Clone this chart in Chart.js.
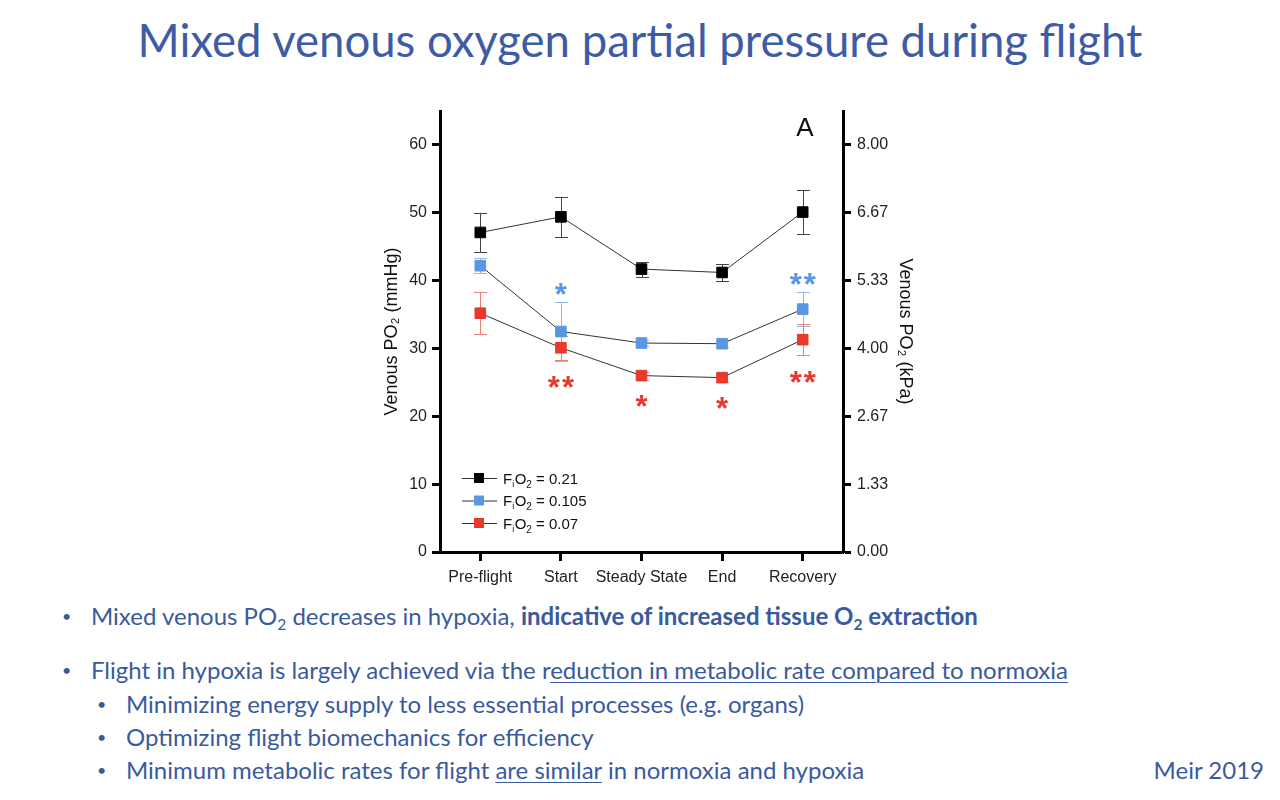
<!DOCTYPE html>
<html>
<head>
<meta charset="utf-8">
<script src="https://cdn.jsdelivr.net/npm/chart.js@4.4.0/dist/chart.umd.min.js"></script>
<style>
  body { margin: 0; width: 1280px; height: 800px; background: #fff; position: relative; overflow: hidden;
         font-family: Lato, "Open Sans", sans-serif; color: #3a5a9e; }
  .title { position: absolute; left: 0; width: 1280px; top: 12px; text-align: center; font-size: 45.5px; color: #3e5ca6; }
  .chart-box { position: absolute; left: 360px; top: 90px; width: 600px; height: 510px; }
  .b { position: absolute; font-size: 24px; line-height: 26px; white-space: nowrap; }
  .b::before { content: "\2022"; position: absolute; left: -29px; font-size: 16px; }
  .b sub { font-size: 0.65em; vertical-align: -0.3em; line-height: 0; }
  .b u { text-decoration-thickness: 1px; text-underline-offset: 3px; }
  .ref { position: absolute; right: 16px; top: 757px; font-size: 24px; line-height: 26px; }
</style>
</head>
<body>
<div class="title">Mixed venous oxygen partial pressure during flight</div>
<div class="chart-box"><canvas id="venousChart"></canvas></div>

<div class="b" style="left:91px; top:603px;">Mixed venous PO<sub>2</sub> decreases in hypoxia, <b>indicative of increased tissue O<sub>2</sub> extraction</b></div>
<div class="b" style="left:91px; top:657px;">Flight in hypoxia is largely achieved via the r<u>eduction in metabolic rate compared to normoxia</u></div>
<div class="b" style="left:126px; top:691px;">Minimizing energy supply to less essential processes (e.g. organs)</div>
<div class="b" style="left:126px; top:724px;">Optimizing flight biomechanics for efficiency</div>
<div class="b" style="left:126px; top:757px;">Minimum metabolic rates for flight <u>are similar</u> in normoxia and hypoxia</div>
<div class="ref">Meir 2019</div>

<script>
// values (mmHg)
const categories = ["Pre-flight", "Start", "Steady State", "End", "Recovery"];
const fio2Normoxia = [47.1, 49.4, 41.7, 41.2, 50.1];
const fio2NormoxiaErr = [2.9, 2.9, 1.1, 1.2, 3.2];
const fio2Mid = [42.2, 32.5, 30.8, 30.7, 35.8];
const fio2MidErr = [1.1, 4.3, 0.5, 0.5, 2.5];
const fio2Low = [35.2, 30.1, 26.0, 25.7, 31.3];
const fio2LowErr = [3.1, 1.8, 0.6, 0.6, 2.3];
const midStars = ["", "*", "", "", "**"];
const lowStars = ["", "**", "*", "*", "**"];
const legendLabels = ["0.21", "0.105", "0.07"];
const leftTicks = [0, 10, 20, 30, 40, 50, 60];
const rightTickLabels = ["0.00", "1.33", "2.67", "4.00", "5.33", "6.67", "8.00"];
const mmHgPerKPa = 7.5;

const BLACK = "#000000";
const BLUE = "#5a97e2";
const RED = "#e8392d";
const FAMILY = "'Liberation Sans', Arial, sans-serif";
const tickFont = { family: FAMILY, size: 16 };

const series = [
  { values: fio2Normoxia, err: fio2NormoxiaErr, color: BLACK, errColor: "#444" },
  { values: fio2Mid, err: fio2MidErr, color: BLUE, errColor: "#8fb8ee" },
  { values: fio2Low, err: fio2LowErr, color: RED, errColor: "#ef8077" }
];

function makeDataset(s) {
  return {
    data: s.values,
    yAxisID: "y",
    borderColor: "#333",
    borderWidth: 1,
    pointStyle: "rect",
    pointRadius: 7.5,
    pointBorderWidth: 1,
    pointBackgroundColor: s.color,
    pointBorderColor: s.color
  };
}

const overlayPlugin = {
  id: "overlay",
  beforeDatasetsDraw(chart) {
    const ctx = chart.ctx;
    const x = chart.scales.x, y = chart.scales.y;
    series.forEach(function (s) {
      ctx.save();
      ctx.strokeStyle = s.errColor;
      ctx.lineWidth = 1;
      s.values.forEach(function (v, i) {
        const px = Math.round(x.getPixelForValue(i)) + 0.5;
        const top = Math.round(y.getPixelForValue(v + s.err[i])) + 0.5;
        const bot = Math.round(y.getPixelForValue(v - s.err[i])) + 0.5;
        ctx.beginPath();
        ctx.moveTo(px, top); ctx.lineTo(px, bot);
        ctx.moveTo(px - 6.5, top); ctx.lineTo(px + 6.5, top);
        ctx.moveTo(px - 6.5, bot); ctx.lineTo(px + 6.5, bot);
        ctx.stroke();
      });
      ctx.restore();
    });
  },
  afterDatasetsDraw(chart) {
    const ctx = chart.ctx;
    const x = chart.scales.x, y = chart.scales.y;
    const area = chart.chartArea;
    ctx.save();
    // significance stars
    const starSize = 31;
    ctx.font = "bold " + starSize + "px " + FAMILY;
    ctx.letterSpacing = "2px";
    ctx.textAlign = "center";
    ctx.textBaseline = "alphabetic";
    midStars.forEach(function (st, i) {
      if (!st) return;
      const top = y.getPixelForValue(fio2Mid[i] + fio2MidErr[i]);
      ctx.fillStyle = BLUE;
      ctx.fillText(st, x.getPixelForValue(i) + 1, top - 15 + starSize * 0.57);
    });
    lowStars.forEach(function (st, i) {
      if (!st) return;
      const bot = y.getPixelForValue(fio2Low[i] - fio2LowErr[i]);
      ctx.fillStyle = RED;
      ctx.fillText(st, x.getPixelForValue(i) + 1, bot + 20 + starSize * 0.57);
    });
    ctx.letterSpacing = "0px";

    // panel letter
    ctx.fillStyle = "#111";
    ctx.font = "26px " + FAMILY;
    ctx.textBaseline = "middle";
    ctx.fillText("A", area.right - 38, area.top + 18);

    // legend
    const lx = area.left + 39;
    const baseY = area.bottom - 74;
    series.forEach(function (s, i) {
      const ly = baseY + i * 22.5;
      ctx.strokeStyle = "#333";
      ctx.lineWidth = 1;
      ctx.beginPath();
      ctx.moveTo(lx - 17, ly + 0.5); ctx.lineTo(lx + 18, ly + 0.5);
      ctx.stroke();
      ctx.fillStyle = s.color;
      ctx.fillRect(lx - 5, ly - 5, 10, 10);
      let tx = lx + 24;
      ctx.fillStyle = "#111";
      ctx.textAlign = "left";
      ctx.textBaseline = "alphabetic";
      const base = ly + 5.5;
      ctx.font = "15px " + FAMILY;
      ctx.fillText("F", tx, base); tx += ctx.measureText("F").width;
      ctx.font = "9px " + FAMILY;
      ctx.fillText("i", tx, base + 3); tx += ctx.measureText("i").width + 0.5;
      ctx.font = "15px " + FAMILY;
      ctx.fillText("O", tx, base); tx += ctx.measureText("O").width;
      ctx.font = "10px " + FAMILY;
      ctx.fillText("2", tx, base + 4); tx += ctx.measureText("2").width;
      ctx.font = "15px " + FAMILY;
      ctx.fillText(" = " + legendLabels[i], tx, base);
    });
    ctx.restore();
  }
};

const axisBorder = { display: true, color: "#000", width: 3 };
const tickGrid = { drawOnChartArea: false, drawTicks: true, tickLength: 8, tickWidth: 3, tickColor: "#000", offset: false };

new Chart(document.getElementById("venousChart").getContext("2d"), {
  type: "line",
  data: {
    labels: categories,
    datasets: series.map(makeDataset)
  },
  options: {
    responsive: true,
    maintainAspectRatio: false,
    animation: false,
    layout: { padding: { top: 21, left: 0, right: 0, bottom: 0 } },
    plugins: { legend: { display: false }, tooltip: { enabled: false } },
    scales: {
      x: {
        type: "category",
        offset: true,
        grid: Object.assign({}, tickGrid, { tickLength: 9 }),
        border: axisBorder,
        ticks: { color: "#222", font: tickFont, padding: 7, maxRotation: 0, autoSkip: false },
        afterFit: function (scale) { scale.height = 48; }
      },
      y: {
        position: "left",
        min: 0,
        max: 65,
        grid: tickGrid,
        border: axisBorder,
        ticks: { color: "#222", font: tickFont, padding: 5 },
        afterBuildTicks: function (scale) { scale.ticks = leftTicks.map(function (v) { return { value: v }; }); },
        afterFit: function (scale) { scale.width = 80; },
        title: { display: true, text: "Venous PO₂ (mmHg)", color: "#111",
                 font: { family: FAMILY, size: 18 }, padding: { top: 21, bottom: 0 } }
      },
      y2: {
        position: "right",
        display: true,
        min: 0,
        max: 65 / mmHgPerKPa,
        grid: tickGrid,
        border: axisBorder,
        ticks: { color: "#222", font: tickFont, padding: 6,
                 callback: function (v, i) { return rightTickLabels[i]; } },
        afterBuildTicks: function (scale) { scale.ticks = leftTicks.map(function (v) { return { value: v / mmHgPerKPa }; }); },
        afterFit: function (scale) { scale.width = 117; },
        title: { display: true, text: "Venous PO₂ (kPa)", color: "#111",
                 font: { family: FAMILY, size: 18 }, padding: { top: 44, bottom: 0 } }
      }
    }
  },
  plugins: [overlayPlugin]
});
</script>
</body>
</html>
